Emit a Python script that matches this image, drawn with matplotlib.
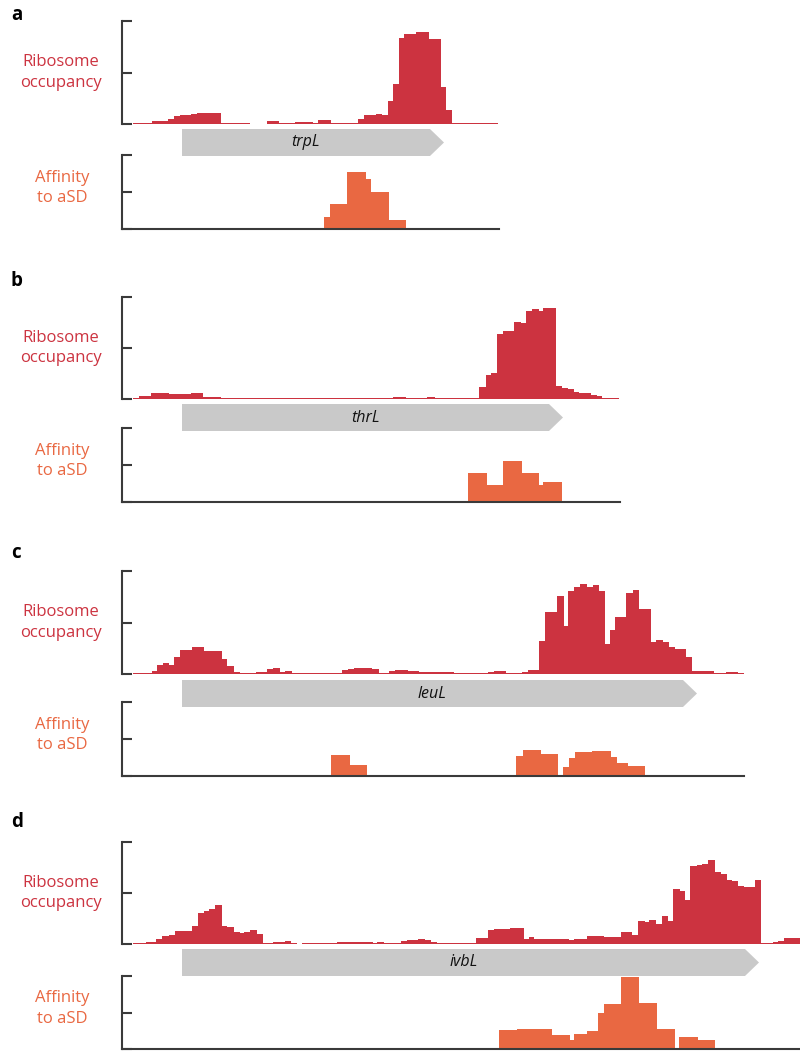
import matplotlib.pyplot as plt
from matplotlib.patches import Polygon
import numpy as np

plt.rcParams['font.family'] = ['Open Sans', 'DejaVu Sans']

RED = '#CC3340'
ORANGE = '#E96842'
GREY = '#C9C9C9'
SPINE = '#3a3a3a'

# positions are in nt relative to the start codon, heights in % of the axis max
genes = ['trpL', 'thrL', 'leuL', 'ivbL']
panel_letters = ['a', 'b', 'c', 'd']
gene_ends = [262, 381, 515, 577]
x_max = [317, 438, 562, 618]

ribo_edges_a = [-49, -30, -14, -8, -2, 9, 15, 27, 33, 39, 45, 68, 85, 97, 113, 131, 136, 149,
                176, 182, 194, 200, 206, 211, 217, 222, 228, 234, 240, 247, 259, 264, 270, 276, 316]
ribo_a = [1.3, 2.6, 4.6, 7.8, 8.8, 9.8, 10.8, 11, 10.5, 1.3, 1, 0, 2.6, 1, 1.6, 1, 3.6, 1,
          5.2, 8.5, 10, 8.5, 22, 38.5, 83.7, 87.6, 86.9, 89.5, 88.9, 82.4, 36, 14, 1.3, 1]
asd_edges_a = [142, 148, 165, 184, 189, 207, 224]
asd_a = [16, 34, 77, 67, 50, 12]

ribo_edges_b = [-49, -43, -31, -13, 9, 21, 39, 56, 73, 91, 108, 125, 142, 211, 224, 229, 245, 253,
                297, 304, 309, 315, 321, 332, 339, 344, 350, 357, 361, 367, 374, 380, 386, 392,
                397, 409, 415, 420, 437]
ribo_b = [1.3, 2.9, 5.5, 4.6, 5.5, 2, 1, 1, 1, 1, 1, 1, 1, 2, 1, 1.3, 2, 1, 11.7, 24,
          25.7, 64, 66.4, 75.6, 74.3, 86.6, 88.3, 86.3, 89.6, 88.9, 12.4, 10.7, 9.4, 7.2, 5.9,
          4.2, 2.9, 1]
asd_edges_b = [286, 305, 321, 340, 357, 361, 380]
asd_b = [39, 23.5, 55, 39, 23.5, 27.6]

ribo_edges_c = [-49, -30.5, -25, -19, -13, -8, -2, 10, 22, 40, 45, 51.5, 57.5, 74, 85, 91, 97.5,
                103, 110, 160, 166, 172, 190, 196.5, 206.5, 212.5, 225.5, 237, 271.5, 305.5,
                311.5, 324, 340, 346, 357, 363, 375, 381.5, 386, 392, 398, 404.5, 410.5, 416.5,
                422.5, 427.5, 433, 444, 451, 457, 469, 473.5, 481, 486.5, 492.5, 503.5, 509.5,
                532, 544, 556, 562]
ribo_c = [1, 2.6, 8.8, 10.5, 8.5, 16.3, 23.2, 25.8, 22.2, 14.4, 7.5, 1.6, 1, 1.6, 4.6, 5.6,
          1.6, 2.6, 1, 3.9, 4.6, 5.6, 4.9, 1, 2.6, 3.6, 2.6, 1.6, 1, 1.6, 2.6, 1, 1.6,
          3.6, 32, 60.5, 76, 46.7, 81, 84.3, 87.6, 84.3, 86, 81, 29.4, 42.8, 55.6, 79, 82, 63.4,
          31, 32.7, 31, 26, 24.2, 16.3, 2.6, 1, 1.6, 1]
asd_edges_c = [149, 167.5, 185, 334, 340.5, 359, 376, 381, 387, 393, 410, 429, 435, 446, 463]
asd_c = [29, 15, 0, 26.7, 34.8, 29.4, 0, 12.7, 24, 32.1, 33.5, 26.2, 17.2, 13.1]

ribo_edges_d = [-49, -36, -26, -20, -13.5, -7.5, 9.5, 15.5, 21.5, 27, 33, 39.5, 45, 51.5, 57.5,
                62, 68, 74.5, 80.5, 90.5, 102.5, 109, 114.5, 120, 154.5, 191, 195, 201.5, 218.5,
                225, 235.5, 242.5, 248.5, 254.5, 293.5, 305.5, 312, 328, 334.5, 342, 346.5, 352,
                375, 387, 392, 404.5, 422, 438.5, 450, 456, 462.5, 467, 474, 479.5, 485.5, 491,
                497.5, 503, 508, 514.5, 520, 526, 533, 538.5, 545, 550, 556, 562, 572.5, 579,
                590.5, 596, 601.5, 620]
ribo_d = [1, 1.6, 4.9, 7.5, 8.8, 12.4, 17.3, 30, 32, 34, 37.9, 18, 16.3, 11.8, 10.8, 11.8,
          13.4, 9.5, 1.3, 1.6, 2.6, 1, 0, 1, 1.6, 1, 1.6, 1.3, 2.6, 3.9, 4.6, 3.6, 1.6, 1,
          5.6, 13.4, 15, 16, 15.4, 4.9, 6.5, 4.6, 4.9, 3.9, 5.2, 7.5, 6.9, 11.4, 8.5, 22.2, 21.2,
          23.2, 19.6, 27.1, 22.2, 53.6, 51.6, 42.8, 76.1, 77.1, 78.8, 82.7, 70.3, 68.6, 63.1,
          61.8, 56.9, 55.9, 62.4, 1, 1.6, 2.6, 5.6]
asd_edges_d = [317, 335, 370, 388, 392, 404.5, 416, 422, 438.5, 457, 475, 492.5, 497, 516, 533]
asd_d = [26, 27.4, 19.2, 12.3, 20.5, 24.2, 49.3, 61.6, 98.2, 63, 27.4, 0, 16.9, 12.8]

ribo_all = [(ribo_edges_a, ribo_a), (ribo_edges_b, ribo_b), (ribo_edges_c, ribo_c), (ribo_edges_d, ribo_d)]
asd_all = [(asd_edges_a, asd_a), (asd_edges_b, asd_b), (asd_edges_c, asd_c), (asd_edges_d, asd_d)]

# pixel layout (top, bottom) of each track
W, H = 800, 1051
ribo_y = [(21, 124), (297, 399), (571, 674), (842, 944)]
gene_y = [(129, 156), (404, 431), (680, 707), (949, 976)]
asd_y = [(155, 229), (428, 502), (702, 776), (976, 1049)]
letter_y = [15, 281, 553, 822]
x0_px = 122
x_min = -60

fig = plt.figure(figsize=(W / 100, H / 100), dpi=100)


def add_ax(top, bottom, xmax):
    w = xmax - x_min
    return fig.add_axes([x0_px / W, 1 - bottom / H, w / W, (bottom - top) / H])


def style(ax, bottom_spine):
    ax.set_ylim(0, 100)
    for s in ['top', 'right']:
        ax.spines[s].set_visible(False)
    ax.spines['bottom'].set_visible(bottom_spine)
    for s in ['left', 'bottom']:
        ax.spines[s].set_color(SPINE)
        ax.spines[s].set_linewidth(1.5)
    ax.set_xticks([])
    ax.set_yticks([0, 50, 100])
    ax.set_yticklabels([])
    ax.tick_params(axis='y', direction='in', length=7, width=1.5, color=SPINE)
    ax.patch.set_alpha(0)


for i in range(4):
    xm = x_max[i]

    ax = add_ax(ribo_y[i][0], ribo_y[i][1], xm)
    edges, vals = ribo_all[i]
    ax.stairs(vals, edges, fill=True, color=RED, linewidth=0)
    ax.set_xlim(x_min, xm)
    style(ax, False)

    gx = add_ax(gene_y[i][0], gene_y[i][1], xm)
    gx.set_xlim(x_min, xm)
    gx.set_ylim(0, 1)
    gx.axis('off')
    end = gene_ends[i]
    head = 14
    gx.add_patch(Polygon([(0, 0), (end - head, 0), (end, 0.5), (end - head, 1), (0, 1)],
                         closed=True, facecolor=GREY, edgecolor='none'))
    gx.text((end - head) / 2, 0.5, genes[i], ha='center', va='center',
            fontsize=11.5, style='italic', color='#111111')

    ax2 = add_ax(asd_y[i][0], asd_y[i][1], xm)
    edges, vals = asd_all[i]
    ax2.stairs(vals, edges, fill=True, color=ORANGE, linewidth=0)
    ax2.set_xlim(x_min, xm)
    style(ax2, True)

    rc = (ribo_y[i][0] + ribo_y[i][1]) / 2
    fig.text(61 / W, 1 - rc / H, 'Ribosome\noccupancy', ha='center', va='center',
             fontsize=12, color=RED, linespacing=1.35)
    ac = (asd_y[i][0] + asd_y[i][1]) / 2 - 4
    fig.text(62 / W, 1 - ac / H, 'Affinity\nto aSD', ha='center', va='center',
             fontsize=12, color=ORANGE, linespacing=1.35)
    fig.text(11 / W, 1 - letter_y[i] / H, panel_letters[i], ha='left', va='center',
             fontsize=13.5, fontweight='bold', color='black')

fig.savefig('out.png', dpi=100)
